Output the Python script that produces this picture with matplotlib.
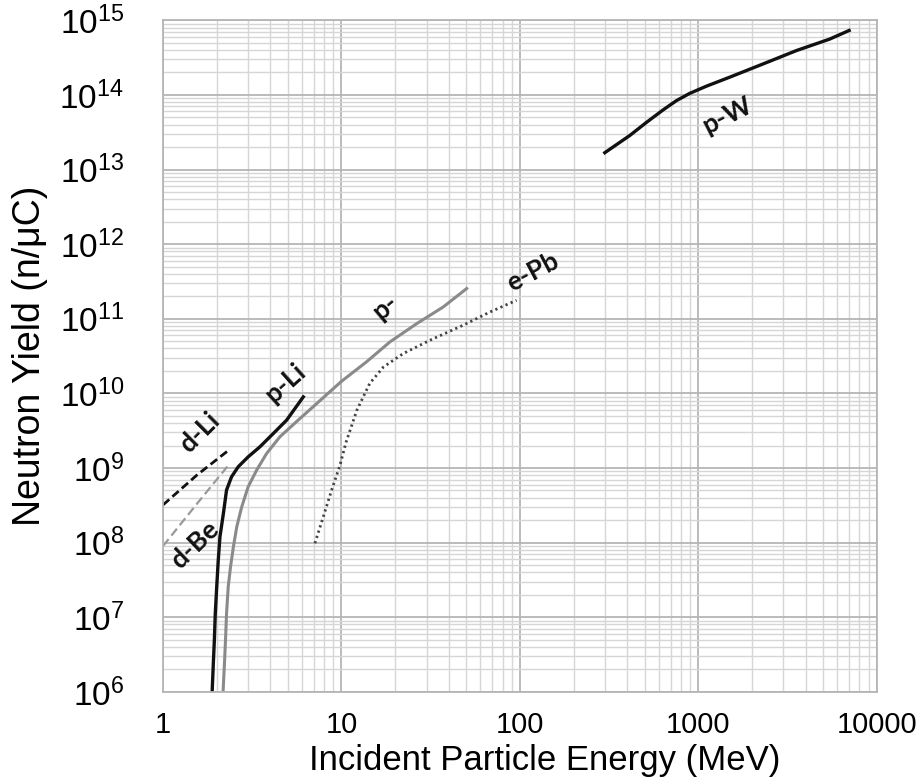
import math
import matplotlib
matplotlib.use("Agg")
import matplotlib.pyplot as plt
from matplotlib.ticker import FixedLocator, FuncFormatter, NullFormatter

plt.rcParams['font.family'] = ['Liberation Sans', 'DejaVu Sans']
plt.rcParams['mathtext.fontset'] = 'custom'
plt.rcParams['mathtext.rm'] = 'Liberation Sans'

x_ticks = [1, 10, 100, 1000, 10000]
y_ticks = [1e6, 1e7, 1e8, 1e9, 1e10, 1e11, 1e12, 1e13, 1e14, 1e15]

# energies in MeV, yields in n/uC
pw_x = [299, 413, 513, 635, 755, 896, 1111, 1501, 2305, 3548, 5450, 7000]
pw_y = [1.68e13, 2.86e13, 4.3e13, 6.3e13, 8.4e13, 1.05e14, 1.31e14, 1.73e14,
        2.6e14, 3.93e14, 5.6e14, 7.3e14]

pli_x = [1.885, 1.914, 1.94, 1.963, 2.0, 2.04, 2.085, 2.18, 2.27, 2.42, 2.64,
         3.0, 3.49, 4.15, 4.93, 6.11]
pli_y = [1e6, 2.42e6, 4.97e6, 1.13e7, 2.57e7, 5.85e7, 1.2e8, 2.47e8, 5.06e8,
         7.6e8, 1.04e9, 1.41e9, 1.92e9, 2.9e9, 4.38e9, 8.97e9]

pbe_x = [2.17, 2.21, 2.24, 2.27, 2.32, 2.39, 2.48, 2.59, 2.76, 3.0, 3.35, 3.81,
         4.52, 5.61, 7.4, 10.0, 13.8, 18.7, 26.4, 37.2, 50.3]
pbe_y = [1e6, 2.42e6, 4.97e6, 1.13e7, 2.57e7, 4.76e7, 8.8e7, 1.63e8, 3.0e8,
         5.6e8, 9.4e8, 1.57e9, 2.62e9, 4.2e9, 7.6e9, 1.45e10, 2.64e10, 4.9e10,
         8.6e10, 1.44e11, 2.54e11]

epb_x = [7.1, 7.91, 8.81, 9.81, 10.6, 12.2, 14.4, 17.2, 22.2, 31.3, 48.1, 67.9, 95.8]
epb_y = [9.8e7, 2.22e8, 5.06e8, 1.09e9, 2.2e9, 5.96e9, 1.36e10, 2.26e10,
         3.42e10, 5.15e10, 8.2e10, 1.23e11, 1.77e11]

dli_x = [1.0, 1.545, 2.31]
dli_y = [3.2e8, 8.0e8, 1.7e9]

dbe_x = [1.0, 1.556, 2.37]
dbe_y = [9.0e7, 3.36e8, 1.15e9]

fig = plt.figure(figsize=(9.21, 7.8), dpi=100)
ax = fig.add_axes([0.177, 0.113, 0.775, 0.861])
ax.set_xscale('log')
ax.set_yscale('log')
ax.set_xlim(1, 10000)
ax.set_ylim(1e6, 1e15)

# minor grid at 2..9 of every decade
x_minor = [m * d for d in x_ticks[:-1] for m in range(2, 10)]
y_minor = [m * d for d in y_ticks[:-1] for m in range(2, 10)]
ax.xaxis.set_major_locator(FixedLocator(x_ticks))
ax.xaxis.set_minor_locator(FixedLocator(x_minor))
ax.yaxis.set_major_locator(FixedLocator(y_ticks))
ax.yaxis.set_minor_locator(FixedLocator(y_minor))
ax.xaxis.set_major_formatter(FuncFormatter(lambda v, p: f"{v:.0f}"))
ax.yaxis.set_major_formatter(
    FuncFormatter(lambda v, p: r"$\mathregular{10^{%d}}$" % round(math.log10(v))))
ax.xaxis.set_minor_formatter(NullFormatter())
ax.yaxis.set_minor_formatter(NullFormatter())

ax.grid(True, which='major', color='#b5b5b5', linewidth=1.3)
ax.grid(True, which='minor', color='#d6d6d6', linewidth=1.0)
ax.set_axisbelow(True)
ax.tick_params(which='both', length=0)
ax.tick_params(axis='x', labelsize=21, pad=14)
ax.tick_params(axis='y', labelsize=24, pad=28)
for s in ax.spines.values():
    s.set_color('#b5b5b5')
    s.set_linewidth(1.3)

ax.plot(pw_x, pw_y, color='#111111', lw=2.4)
ax.plot(pli_x, pli_y, color='#111111', lw=2.4)
ax.plot(pbe_x, pbe_y, color='#8a8a8a', lw=2.2)
ax.plot(epb_x, epb_y, color='#444444', lw=2.0, linestyle=(0, (0.8, 1.2)))
ax.plot(dli_x, dli_y, color='#111111', lw=2.0, linestyle=(0, (3, 1.5)))
ax.plot(dbe_x, dbe_y, color='#999999', lw=1.6, linestyle=(0, (4, 2)))

lab = dict(fontsize=19, fontweight='bold', family=['Lato', 'DejaVu Sans'],
           ha='center', va='center', color='#111111')
ax.text(1.61, 3.0e9, 'd-Li', rotation=45, **lab)
ax.text(1.51, 9.3e7, 'd-Be', rotation=44, **lab)
ax.text(4.83, 1.37e10, 'p-Li', rotation=42, **lab)
ax.text(17.5, 1.43e11, 'p-', rotation=40, **lab)
ax.text(118, 4.2e11, 'e-Pb', rotation=28, **lab)
ax.text(1463, 5.4e13, 'p-W', rotation=27, **lab)

ax.set_xlabel('Incident Particle Energy (MeV)', fontsize=25)
ax.xaxis.set_label_coords(0.535, -0.077)
ax.set_ylabel('Neutron Yield (n/\u03bcC)', fontsize=27, labelpad=8)

fig.savefig('out.png', dpi=100)
